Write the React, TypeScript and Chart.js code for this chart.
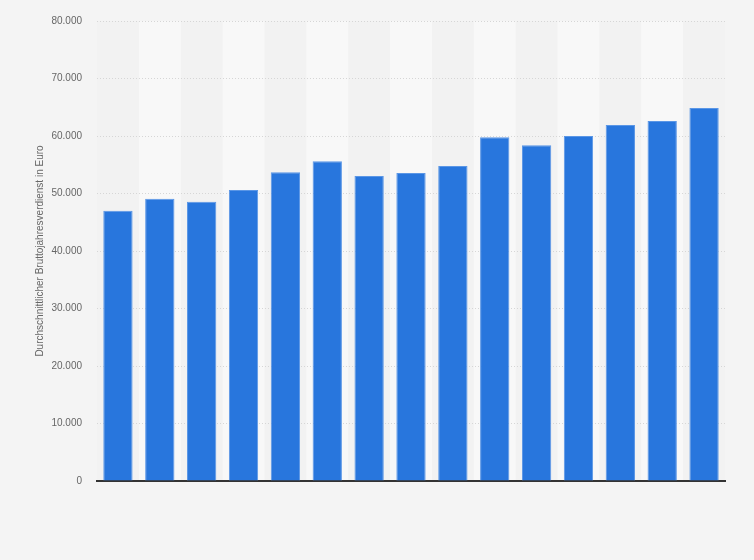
import React, { useEffect, useRef } from "react";
import { Chart, registerables } from "chart.js";

Chart.register(...registerables);

const categories = [
  "2007", "2008", "2009", "2010", "2011", "2012", "2013", "2014",
  "2015", "2016", "2017", "2018", "2019", "2020", "2021",
];
const earnings = [
  47000, 49100, 48550, 50600, 53700, 55600, 53050, 53550,
  54800, 59800, 58400, 60000, 61900, 62600, 64850,
];
const yTickValues = [0, 10000, 20000, 30000, 40000, 50000, 60000, 70000, 80000];
const yAxisTitle = "Durchschnittlicher Bruttojahresverdienst in Euro";

const formatDe = (v: number) => {
  const s = Math.round(v).toString();
  return s.replace(/\B(?=(\d{3})+(?!\d))/g, ".");
};

const stripePlugin = {
  id: "stripes",
  beforeDraw(chart: any) {
    const { ctx, chartArea, scales } = chart;
    const x = scales.x;
    const n = categories.length;
    const w = (chartArea.right - chartArea.left) / n;
    ctx.save();
    ctx.fillStyle = "#f2f2f2";
    ctx.fillRect(chartArea.left, chartArea.top, chartArea.right - chartArea.left, chartArea.bottom - chartArea.top);
    for (let i = 0; i < n; i++) {
      if (i % 2 === 1) {
        const c = x.getPixelForValue(i);
        ctx.fillStyle = "#f8f8f8";
        ctx.fillRect(c - w / 2, chartArea.top, w, chartArea.bottom - chartArea.top);
      }
    }
    ctx.restore();
  },
};

export default function App() {
  const ref = useRef<HTMLCanvasElement>(null);
  useEffect(() => {
    document.body.style.margin = "0";
    document.body.style.background = "#f4f4f4";
    if (!ref.current) return;
    const chart = new Chart(ref.current, {
      type: "bar",
      data: {
        labels: categories,
        datasets: [
          {
            data: earnings,
            backgroundColor: "#2876dd",
            borderColor: "#5a96e6",
            borderWidth: 1,
            barPercentage: 0.7,
            categoryPercentage: 1,
          },
        ],
      },
      plugins: [stripePlugin],
      options: {
        animation: false,
        responsive: false,
        maintainAspectRatio: false,
        layout: { padding: { top: 20, right: 29, left: 0, bottom: 0 } },
        plugins: { legend: { display: false }, tooltip: { enabled: false } },
        scales: {
          x: {
            grid: { display: false },
            ticks: { display: false },
            border: { display: true, color: "#333333", width: 2 },
            afterFit: (s: any) => {
              s.height = 79;
            },
          },
          y: {
            min: 0,
            max: 80000,
            afterBuildTicks: (s: any) => {
              s.ticks = yTickValues.map((v) => ({ value: v }));
            },
            grid: {
              color: "#d6d6d6",
              drawTicks: false,
              lineWidth: 1,
            },
            border: { display: false, dash: [1, 2] },
            ticks: {
              padding: 15,
              color: "#666666",
              font: { family: "'Liberation Sans', Arial, sans-serif", size: 10 },
              callback: (v: any) => formatDe(Number(v)),
            },
            title: {
              display: true,
              text: yAxisTitle,
              color: "#666666",
              font: { family: "'Liberation Sans', Arial, sans-serif", size: 10 },
              padding: { top: 34, bottom: 0 },
            },
            afterFit: (s: any) => {
              s.width = 97;
            },
          },
        },
      },
    });
    return () => chart.destroy();
  }, []);
  return (
    <div style={{ width: 754, height: 560, background: "#f4f4f4" }}>
      <canvas ref={ref} width={754} height={560} style={{ display: "block" }} />
    </div>
  );
}
